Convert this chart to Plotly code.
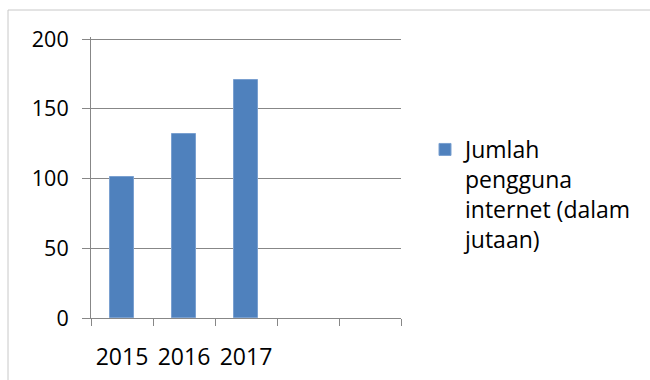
import plotly.graph_objects as go

years = ["2015", "2016", "2017"]
values = [101, 132, 171]
n_slots = 5
series_name = "Jumlah<br>pengguna<br>internet (dalam<br>jutaan)"
y_ticks = [0, 50, 100, 150, 200]

W, H = 650, 380
ml, mr, mt, mb = 91, 249, 37, 62
pw, ph = W - ml - mr, H - mt - mb

FONT = "Open Sans"
GRID = "#878787"
BLUE = "#4F81BD"

fig = go.Figure()
fig.add_trace(go.Bar(
    x=list(range(len(years))), y=values, name=series_name,
    marker=dict(color=BLUE, line=dict(color="#7AA0D0", width=1)),
    width=0.4, showlegend=True,
))

fig.update_layout(
    width=W, height=H,
    margin=dict(l=ml, r=mr, t=mt, b=mb, pad=0, autoexpand=False),
    paper_bgcolor="white", plot_bgcolor="white",
    font=dict(family=FONT, size=22, color="black"),
    bargap=0,
    xaxis=dict(
        automargin=False,
        range=[-0.5, n_slots - 0.5],
        tickmode="array", tickvals=list(range(len(years))), ticktext=years,
        ticks="outside", ticklen=0, tickcolor=GRID,
        ticklabelstandoff=18,
        showline=True, linecolor=GRID, linewidth=1,
        showgrid=False, zeroline=False,
        minor=dict(tickmode="array",
                   tickvals=[i - 0.5 for i in range(n_slots + 1)],
                   ticks="outside", ticklen=7, tickcolor=GRID, tickwidth=1,
                   showgrid=False),
        tickfont=dict(size=23),
    ),
    yaxis=dict(
        automargin=False,
        range=[0, 201.5], tickmode="array", tickvals=y_ticks,
        ticks="outside", ticklen=8, tickcolor=GRID, tickwidth=1,
        showline=True, linecolor=GRID, linewidth=1,
        showgrid=True, gridcolor=GRID, gridwidth=1, zeroline=False,
        ticklabelstandoff=9,
        tickfont=dict(size=21.5),
    ),
    legend=dict(
        x=(425 - ml) / pw, y=(mt + ph - 128) / ph,
        xanchor="left", yanchor="top", valign="top",
        font=dict(size=23), bgcolor="rgba(0,0,0,0)",
    ),
    shapes=[dict(
        type="rect", xref="paper", yref="paper", layer="below",
        x0=(8 - ml) / pw, x1=(660 - ml) / pw,
        y0=(H - mb - 390) / ph, y1=(H - mb - 10) / ph,
        line=dict(color="#C8C8C8", width=1), fillcolor="rgba(0,0,0,0)",
    )],
)

fig.write_html("out.html")
